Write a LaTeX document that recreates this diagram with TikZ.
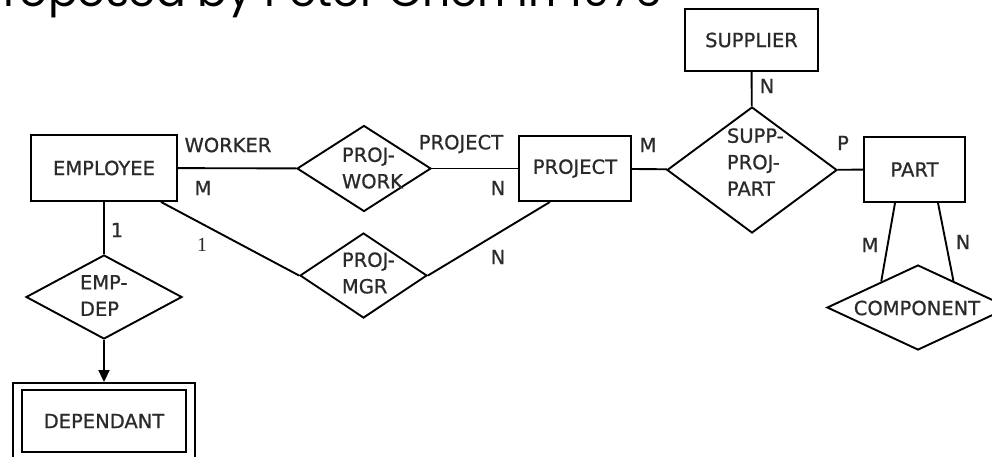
\documentclass[tikz,border=0pt]{standalone}
\usepackage{fontspec}
\setmainfont{DejaVu Sans}
\newfontfamily\erface{DejaVu Sans}[FakeBold=0.8]
\newfontfamily\headfont{Poppins}
\newfontfamily\serifdigit{Liberation Serif}
\usetikzlibrary{shapes.geometric,arrows.meta,calc}

\definecolor{ink}{HTML}{2A2A2A}
\newcommand{\erfont}{\erface\fontsize{19.5}{26.5}\selectfont}

\begin{document}
\begin{tikzpicture}[x=1pt,y=-1pt,
  line width=1.9pt,
  entity/.style={draw, rectangle, inner sep=0pt, font=\erfont, text=ink},
  relation/.style={draw, diamond, inner sep=0pt},
  rtext/.style={font=\erfont, text=ink, align=left, inner sep=0pt},
  card/.style={font=\erfont, text=ink, inner sep=0pt},
  heading/.style={font=\headfont\fontsize{44}{44}\selectfont, inner sep=0pt}]

\useasboundingbox (0,0) rectangle (992,456);
\clip (0,0) rectangle (992,456);

% caption line running off the top edge
\node[heading, anchor=base east] (head) at (663,6) {proposed by Peter Chen in 1976};

% entities
\node[entity, minimum width=146pt, minimum height=66pt] (emp)  at (104,168)   {EMPLOYEE};
\node[entity, minimum width=112pt, minimum height=65pt] (proj) at (575,168.5) {PROJECT};
\node[entity, minimum width=133pt, minimum height=62pt] (sup)  at (751.5,40)  {SUPPLIER};
\node[entity, minimum width=101pt, minimum height=65pt] (part) at (914.5,169.5) {PART};

% weak entity with double border
\node[draw, rectangle, inner sep=0pt, minimum width=182pt, minimum height=76pt] (depout) at (104,421) {};
\node[entity, minimum width=164pt, minimum height=62pt] (dep) at (104,421) {DEPENDANT};

% relationships
\node[relation, minimum width=134pt, minimum height=86pt]  (pw)   at (364,168.5) {};
\node[relation, minimum width=127pt, minimum height=85pt]  (pm)   at (363.5,275.5) {};
\node[relation, minimum width=170pt, minimum height=126pt] (spp)  at (752,170) {};
\node[relation, minimum width=182pt, minimum height=85pt]  (comp) at (918,307.5) {};
\node[relation, minimum width=156pt, minimum height=84pt]  (ed)   at (104,297) {};

% relationship names
\node[rtext, anchor=west] (pwtext)   at (341,168)   {PROJ-\\WORK};
\node[rtext, anchor=west] (pmtext)   at (341,273)   {PROJ-\\MGR};
\node[rtext, anchor=west] (spptext)  at (726,162)   {SUPP-\\PROJ-\\PART};
\node[rtext, anchor=west] (edtext)    at (79,295.5)  {EMP-\\DEP};
\node[rtext]              (comptext) at (917,308)   {COMPONENT};

% connectors
\draw (emp) -- (pw);
\draw (pw) -- (proj);
\draw ([xshift=-17pt]emp.south east) -- (pm.west);
\draw (pm.east) -- ([xshift=-25pt]proj.south);
\draw (proj) -- (spp);
\draw (sup) -- (spp);
\draw (spp) -- (part);
\draw ([xshift=-19.5pt]part.south) -- ($(comp.north)!0.4!(comp.west)$);
\draw ([xshift=23.5pt]part.south) -- ($(comp.north)!0.385!(comp.east)$);
\draw (emp) -- (ed);
\draw[-{Triangle[length=12pt,width=11pt]}] (ed.south) -- (depout.north);

% roles and cardinalities
\node[card] (lworker)  at (228,145) {WORKER};
\node[card] (lm1)      at (203,188) {M};
\node[card] (l1a)      at (117,230) {1};
\node[card, font=\serifdigit\fontsize{20}{20}\selectfont] (l1b) at (202,245) {1};
\node[card] (lproject) at (461,144) {PROJECT};
\node[card] (ln1)      at (498,188) {N};
\node[card] (ln2)      at (498,257) {N};
\node[card] (lm2)      at (648,145) {M};
\node[card] (ln3)      at (767,86)  {N};
\node[card] (lp)       at (843,143) {P};
\node[card] (lm3)      at (870,245) {M};
\node[card] (ln4)      at (963,242) {N};
\end{tikzpicture}
\end{document}
